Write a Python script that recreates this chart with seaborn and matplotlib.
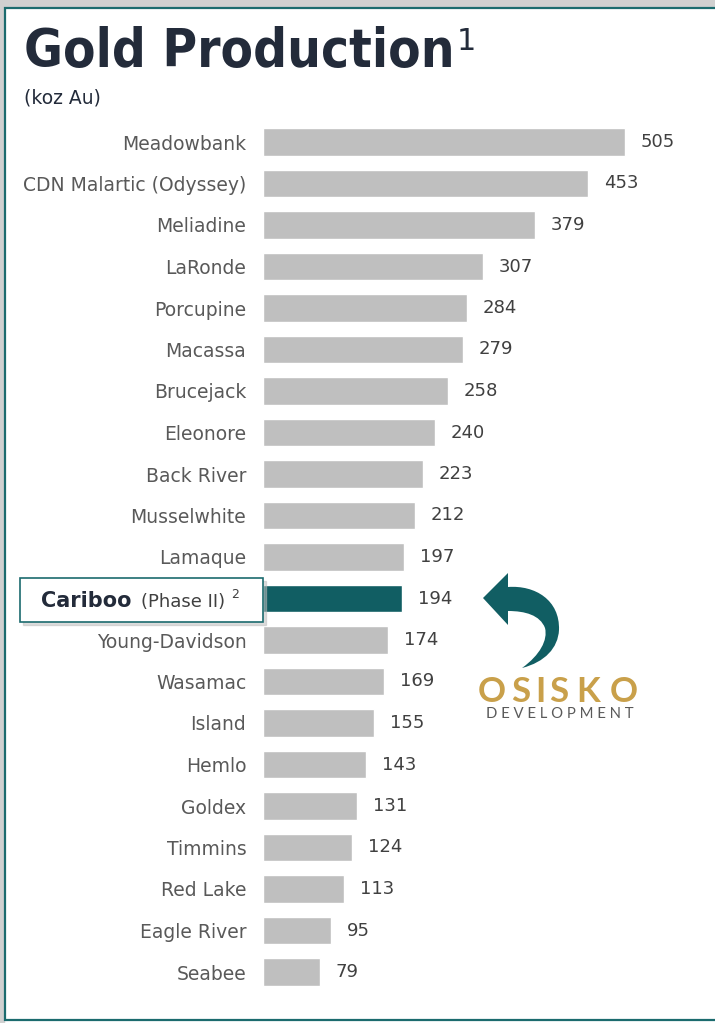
import numpy as np
import matplotlib
matplotlib.use("Agg")
import matplotlib.pyplot as plt
from matplotlib.patches import Rectangle, PathPatch
from matplotlib.path import Path
import seaborn as sns

# -------------------- data --------------------
mines = ["Meadowbank", "CDN Malartic (Odyssey)", "Meliadine", "LaRonde", "Porcupine",
         "Macassa", "Brucejack", "Eleonore", "Back River", "Musselwhite", "Lamaque",
         "Cariboo", "Young-Davidson", "Wasamac", "Island", "Hemlo", "Goldex",
         "Timmins", "Red Lake", "Eagle River", "Seabee"]
production = [505, 453, 379, 307, 284, 279, 258, 240, 223, 212, 197,
              194, 174, 169, 155, 143, 131, 124, 113, 95, 79]
highlight = "Cariboo"
# ---------------------------------------------

W, H = 715, 1023
GREY = "#BFBFBF"
TEAL = "#115E63"
NAVY = "#232B3A"

sns.set_theme(style="white")
plt.rcParams["font.family"] = ["DejaVu Sans"]

fig = plt.figure(figsize=(W / 100, H / 100), dpi=100)


def fx(x):
    return x / W


def fy(y):
    return 1 - y / H


# axes: bars start at x=263, centers from y=142 to y=972
ax = fig.add_axes([fx(263), fy(992.75), fx(700) - fx(263), fy(121.25) - fy(992.75)])
ax.patch.set_alpha(0)
colors = [TEAL if m == highlight else GREY for m in mines]
sns.barplot(x=production, y=mines, hue=mines, palette=colors, legend=False,
            width=0.67, saturation=1, ax=ax)
ax.set_xlim(0, 609.5)
ax.set_ylim(len(mines) - 0.5, -0.5)
ax.set_xlabel("")
ax.set_ylabel("")
ax.set_xticks([])
sns.despine(ax=ax, left=True, bottom=True)
ax.tick_params(axis="y", length=0, pad=12, labelsize=13.5, labelcolor="#595959")
ax.set_yticks(range(len(mines)))
ax.set_yticklabels(["" if m == highlight else m for m in mines])
for c in ax.containers:
    ax.bar_label(c, padding=11.5, fontsize=13, color="#404040")

# frame with shadow
fig.patches.append(Rectangle((0, fy(8)), 1, 1 - fy(8), transform=fig.transFigure,
                             color="#D0D0D0", zorder=-2))
fig.patches.append(Rectangle((0, 0), fx(4), 1, transform=fig.transFigure,
                             color="#D0D0D0", zorder=-2))
fig.patches.append(Rectangle((fx(5), fy(1020)), fx(730) - fx(5), fy(8) - fy(1020),
                             transform=fig.transFigure, facecolor="white",
                             edgecolor="#1B6B6E", lw=1.6, zorder=-1))

# title
fig.text(fx(24), fy(67), "Gold Production", fontsize=38, fontweight="bold",
         color=NAVY, fontstretch="condensed", va="baseline")
fig.text(fx(457), fy(50), "1", fontsize=22, color=NAVY, va="baseline")
fig.text(fx(24), fy(103), "(koz Au)", fontsize=13.5, color=NAVY, va="baseline")

# highlighted label box
fig.patches.append(Rectangle((fx(23), fy(625)), fx(263) - fx(20), fy(578) - fy(622),
                             transform=fig.transFigure, color="#BBBBBB", alpha=0.5,
                             zorder=1))
fig.patches.append(Rectangle((fx(20), fy(622)), fx(263) - fx(20), fy(578) - fy(622),
                             transform=fig.transFigure, facecolor="white",
                             edgecolor="#1B6B6E", lw=1.2, zorder=2))
fig.text(fx(41), fy(607), "Cariboo", fontsize=15, fontweight="bold", color=NAVY,
         va="baseline", zorder=3)
fig.text(fx(141), fy(607), "(Phase II)", fontsize=13, color="#404040",
         va="baseline", zorder=3)
fig.text(fx(231), fy(598), "2", fontsize=9, color="#404040", va="baseline", zorder=3)

# curved arrow (decoration)
pts = [(483, 598), (508, 573), (508, 587),
       (535, 585), (560, 600), (559, 630),
       (558, 648), (545, 662), (522, 668),
       (540, 655), (548, 640), (545, 628),
       (540, 615), (525, 611), (508, 611),
       (508, 625), (483, 598)]
codes = [Path.MOVETO, Path.LINETO, Path.LINETO,
         Path.CURVE4, Path.CURVE4, Path.CURVE4,
         Path.CURVE4, Path.CURVE4, Path.CURVE4,
         Path.CURVE4, Path.CURVE4, Path.CURVE4,
         Path.CURVE4, Path.CURVE4, Path.CURVE4,
         Path.LINETO, Path.CLOSEPOLY]
path = Path([(fx(x), fy(y)) for x, y in pts], codes)
fig.patches.append(PathPatch(path, transform=fig.transFigure, facecolor=TEAL,
                             edgecolor="none", zorder=2))

# logo text, spaced letter by letter
for ch, cx in zip("OSISKO", [492, 521, 540, 559, 588, 624]):
    fig.text(fx(cx), fy(702), ch, fontsize=25, color="#C9A04A", ha="center",
             va="baseline", family="Lato", fontweight="bold")
fig.text(fx(560), fy(718), "D E V E L O P M E N T", fontsize=10.7, color="#5A5A5A",
         ha="center", va="baseline", family="Lato")

fig.savefig("out.png", dpi=100)
